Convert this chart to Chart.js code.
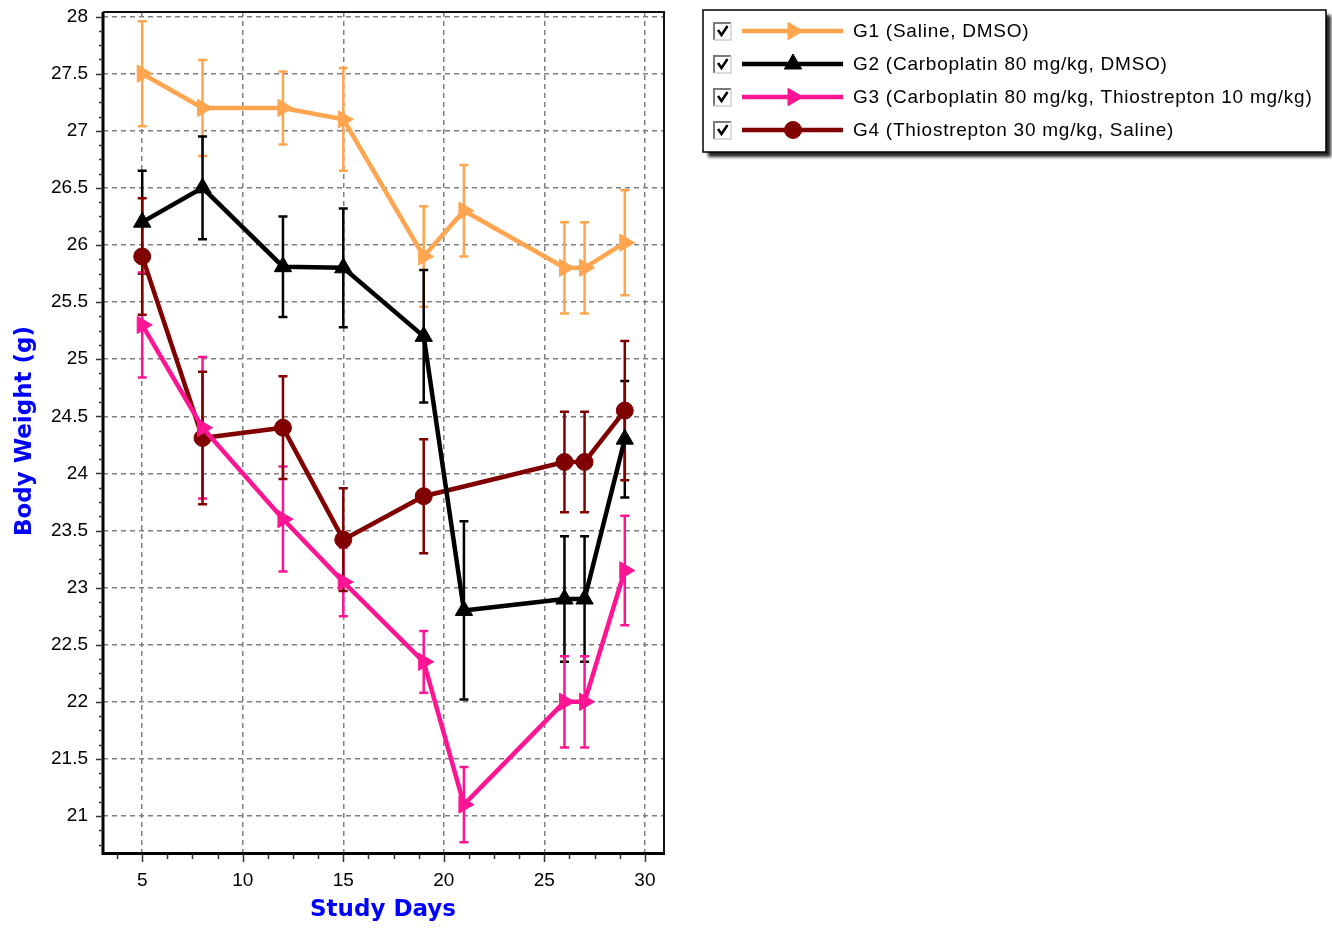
<!DOCTYPE html>
<html>
<head>
<meta charset="utf-8">
<script src="https://cdn.jsdelivr.net/npm/chart.js@4.4.1/dist/chart.umd.min.js"></script>
<style>
html,body{margin:0;padding:0;background:#fff;}
#wrap{position:relative;width:1332px;height:930px;}
</style>
</head>
<body>
<div id="wrap"><canvas id="c" width="1332" height="930"></canvas></div>
<script>
const days = [5, 8, 12, 15, 19, 21, 26, 27, 29];
const g1 = [27.5, 27.2, 27.2, 27.1, 25.9, 26.3, 25.8, 25.8, 26.02];
const g1Err = [0.46, 0.42, 0.32, 0.45, 0.44, 0.4, 0.4, 0.4, 0.46];
const g2 = [26.2, 26.5, 25.81, 25.8, 25.2, 22.8, 22.9, 22.9, 24.3];
const g2Err = [0.45, 0.45, 0.44, 0.52, 0.58, 0.78, 0.55, 0.55, 0.51];
const g3 = [25.3, 24.4, 23.6, 23.05, 22.35, 21.1, 22.0, 22.0, 23.15];
const g3Err = [0.46, 0.62, 0.46, 0.3, 0.27, 0.33, 0.4, 0.4, 0.48];
const g4 = [25.9, 24.31, 24.4, 23.42, 23.8, null, 24.1, 24.1, 24.55];
const g4Err = [0.51, 0.58, 0.45, 0.45, 0.5, null, 0.44, 0.44, 0.61];
const seriesNames = [
  'G1 (Saline, DMSO)',
  'G2 (Carboplatin 80 mg/kg, DMSO)',
  'G3 (Carboplatin 80 mg/kg, Thiostrepton 10 mg/kg)',
  'G4 (Thiostrepton 30 mg/kg, Saline)'
];
const colors = ['#FFA54F', '#000000', '#FF1493', '#800000'];
const xTicks = [5, 10, 15, 20, 25, 30];
const yTicks = [21, 21.5, 22, 22.5, 23, 23.5, 24, 24.5, 25, 25.5, 26, 26.5, 27, 27.5, 28];
const xTitle = 'Study Days';
const yTitle = 'Body Weight (g)';

const styles = [
  {pointStyle: 'triangle', rotation: 90, radius: 10},
  {pointStyle: 'triangle', rotation: 0, radius: 10},
  {pointStyle: 'triangle', rotation: 90, radius: 10},
  {pointStyle: 'circle', rotation: 0, radius: 8.5}
];
const values = [g1, g2, g3, g4];
const errs = [g1Err, g2Err, g3Err, g4Err];

function pts(arr, err) {
  const out = [];
  arr.forEach((v, i) => { if (v !== null) out.push({x: days[i], y: v, e: err[i]}); });
  return out;
}

const datasets = values.map((arr, k) => ({
  label: seriesNames[k],
  data: pts(arr, errs[k]),
  borderColor: colors[k],
  backgroundColor: colors[k],
  borderWidth: 4.5,
  pointStyle: styles[k].pointStyle,
  rotation: styles[k].rotation,
  pointRadius: styles[k].radius,
  pointBorderWidth: 1,
  pointBorderColor: colors[k],
  pointBackgroundColor: colors[k],
  tension: 0,
  fill: false,
  order: k
}));

const errorBars = {
  id: 'errorBars',
  beforeDatasetsDraw(chart) {
    const ctx = chart.ctx, xs = chart.scales.x, ys = chart.scales.y;
    ctx.save();
    chart.data.datasets.forEach((ds) => {
      ctx.strokeStyle = ds.borderColor;
      ctx.lineWidth = 2.5;
      ds.data.forEach(p => {
        const x = xs.getPixelForValue(p.x);
        const yt = ys.getPixelForValue(p.y + p.e);
        const yb = ys.getPixelForValue(p.y - p.e);
        ctx.beginPath();
        ctx.moveTo(x, yt); ctx.lineTo(x, yb);
        ctx.moveTo(x - 4.5, yt); ctx.lineTo(x + 4.5, yt);
        ctx.moveTo(x - 4.5, yb); ctx.lineTo(x + 4.5, yb);
        ctx.stroke();
      });
    });
    ctx.restore();
  }
};

const frame = {
  id: 'frame',
  afterDraw(chart) {
    const ctx = chart.ctx, a = chart.chartArea, xs = chart.scales.x, ys = chart.scales.y;
    ctx.save();
    ctx.strokeStyle = '#111';
    ctx.lineWidth = 2;
    ctx.beginPath();
    ctx.moveTo(a.left, a.top); ctx.lineTo(a.right, a.top); ctx.lineTo(a.right, a.bottom);
    ctx.stroke();
    ctx.strokeStyle = '#000';
    ctx.lineWidth = 3;
    ctx.beginPath();
    ctx.moveTo(a.left, a.top); ctx.lineTo(a.left, a.bottom + 1.5); ctx.lineTo(a.right + 1, a.bottom + 1.5);
    ctx.stroke();
    ctx.strokeStyle = '#333';
    ctx.lineWidth = 1.5;
    ctx.beginPath();
    for (let v = 20.75; v <= 28.01; v += 0.125) {
      const y = Math.round(ys.getPixelForValue(v)) + 0.5;
      if (y < a.top || y > a.bottom) continue;
      const major = Math.abs(v * 2 - Math.round(v * 2)) < 1e-6;
      ctx.moveTo(a.left - (major ? 7 : 4), y); ctx.lineTo(a.left, y);
    }
    for (let v = 3.75; v <= 30.9; v += 1.25) {
      const x = Math.round(xs.getPixelForValue(v)) + 0.5;
      if (x < a.left || x > a.right) continue;
      const major = Math.abs(v / 5 - Math.round(v / 5)) < 1e-6;
      ctx.moveTo(x, a.bottom + 2); ctx.lineTo(x, a.bottom + (major ? 10 : 7));
    }
    ctx.stroke();
    ctx.fillStyle = '#0000FF';
    ctx.font = 'bold 23px "DejaVu Sans"';
    ctx.textAlign = 'center';
    ctx.textBaseline = 'middle';
    ctx.fillText(xTitle, 383, 910);
    ctx.translate(25, 431);
    ctx.rotate(-Math.PI / 2);
    ctx.fillText(yTitle, 0, 0);
    ctx.restore();

    // legend
    ctx.save();
    const L = 703, T = 10, R = 1326, B = 152;
    ctx.save();
    ctx.shadowColor = 'rgba(0,0,0,0.85)';
    ctx.shadowBlur = 3;
    ctx.shadowOffsetX = 5;
    ctx.shadowOffsetY = 5;
    ctx.fillStyle = '#fff';
    ctx.fillRect(L, T, R - L, B - T);
    ctx.restore();
    ctx.strokeStyle = '#000';
    ctx.lineWidth = 1.5;
    ctx.strokeRect(L, T, R - L, B - T);
    const rows = [31, 64, 97, 130];
    chart.data.datasets.forEach((ds, k) => {
      const cy = rows[k];
      ctx.fillStyle = '#fff';
      ctx.fillRect(713, cy - 9, 18, 18);
      ctx.strokeStyle = '#7a7a7a';
      ctx.lineWidth = 2;
      ctx.beginPath();
      ctx.moveTo(714, cy + 9); ctx.lineTo(714, cy - 8); ctx.lineTo(731, cy - 8);
      ctx.stroke();
      ctx.strokeStyle = '#d0d0d0';
      ctx.lineWidth = 1.5;
      ctx.beginPath();
      ctx.moveTo(731, cy - 8); ctx.lineTo(731, cy + 9); ctx.lineTo(714, cy + 9);
      ctx.stroke();
      ctx.strokeStyle = '#000';
      ctx.lineWidth = 2.5;
      ctx.beginPath();
      ctx.moveTo(718, cy - 1); ctx.lineTo(721.5, cy + 4); ctx.lineTo(727.5, cy - 5);
      ctx.stroke();
      ctx.strokeStyle = ds.borderColor;
      ctx.lineWidth = 4.5;
      ctx.beginPath();
      ctx.moveTo(742, cy); ctx.lineTo(843, cy);
      ctx.stroke();
      ctx.fillStyle = ds.borderColor;
      ctx.strokeStyle = ds.borderColor;
      ctx.lineWidth = 1;
      Chart.helpers.drawPoint(ctx, {pointStyle: ds.pointStyle, rotation: ds.rotation, radius: ds.pointRadius, borderWidth: 1}, 793, cy);
      ctx.fillStyle = '#000';
      ctx.font = '19px "Liberation Sans"';
      ctx.letterSpacing = '0.75px';
      ctx.textAlign = 'left';
      ctx.textBaseline = 'middle';
      ctx.fillText(ds.label, 853, cy + 1);
      ctx.letterSpacing = '0px';
    });
    ctx.restore();
  }
};

const tickFont = {family: '"Liberation Sans", Arial, sans-serif', size: 19};

new Chart(document.getElementById('c'), {
  type: 'line',
  data: {datasets},
  options: {
    responsive: false,
    animation: false,
    layout: {padding: {top: 12, right: 668, left: 0, bottom: 0}},
    plugins: {legend: {display: false}, tooltip: {enabled: false}},
    scales: {
      x: {
        type: 'linear',
        min: 3.05, max: 30.95,
        afterFit(s) { s.height = 78; s.paddingLeft = 0; s.paddingRight = 0; },
        afterBuildTicks(s) { s.ticks = xTicks.map(v => ({value: v})); },
        border: {display: false, dash: [5, 4]},
        grid: {color: '#808080', lineWidth: 1.5, drawTicks: false, tickLength: 0},
        ticks: {font: tickFont, color: '#000', padding: 17, maxRotation: 0, autoSkip: false,
                callback: v => String(v)}
      },
      y: {
        type: 'linear',
        min: 20.685, max: 28.04,
        afterFit(s) { s.width = 103; s.paddingTop = 0; s.paddingBottom = 0; },
        afterBuildTicks(s) { s.ticks = yTicks.map(v => ({value: v})); },
        border: {display: false, dash: [5, 4]},
        grid: {color: '#808080', lineWidth: 1.5, drawTicks: false, tickLength: 0},
        ticks: {font: tickFont, color: '#000', padding: 15, autoSkip: false,
                callback: v => String(v)}
      }
    }
  },
  plugins: [errorBars, frame]
});
</script>
</body>
</html>
